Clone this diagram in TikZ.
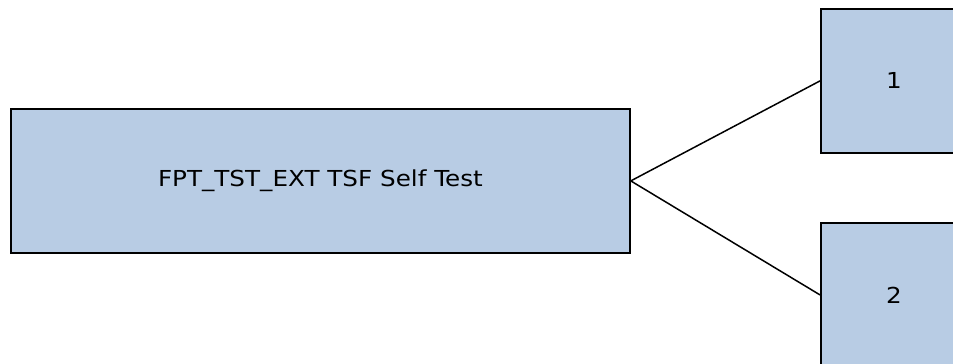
\documentclass[tikz,border=0pt]{standalone}
\usepackage{fontspec}
\setmainfont{DejaVu Sans}
\newfontfamily\wfont[FakeStretch=1.12]{DejaVu Sans}
\definecolor{boxfill}{HTML}{B8CCE4}
\begin{document}
\begin{tikzpicture}[x=1pt,y=1pt,
  blk/.style={draw=black, line width=1.8pt, fill=boxfill, inner sep=0pt, anchor=north west, font=\wfont\fontsize{22}{26}\selectfont},
  conn/.style={draw=black, line width=1.5pt}]
\useasboundingbox (0,0) rectangle (953,-364);
\clip (0,0) rectangle (953,-364);
\node[blk, minimum width=619pt, minimum height=144pt] (main) at (10,-108) {FPT\_TST\_EXT TSF Self Test};
\node[blk, minimum width=146pt, minimum height=144pt] (one) at (820,-8) {1};
\node[blk, minimum width=146pt, minimum height=144pt] (two) at (820,-222) {2};
\draw[conn] (main.east) -- (one.west);
\draw[conn] (main.east) -- (two.west);
\end{tikzpicture}
\end{document}
